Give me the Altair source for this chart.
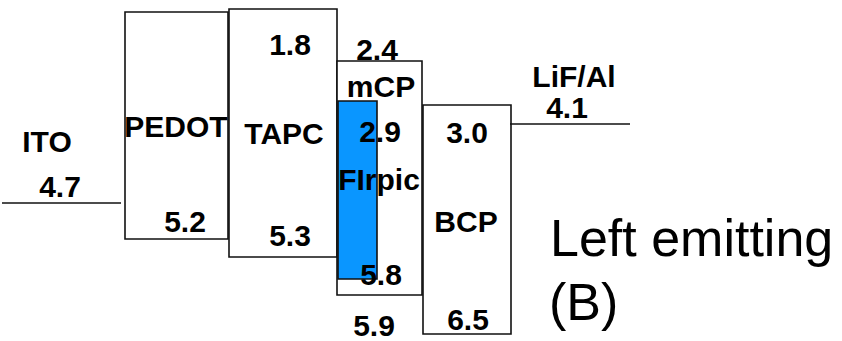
import altair as alt
import pandas as pd

W, H = 842, 341

# Schematic diagram coordinates (y grows downward)
box_names = ["PEDOT", "TAPC", "mCP", "FIrpic", "BCP"]
box_x0 = [125, 229, 337, 338, 423]
box_x1 = [228, 337, 422, 377, 511]
box_y0 = [12, 9, 61, 101, 105]
box_y1 = [239, 257, 295, 279, 334]
box_fill = ["white", "white", "white", "#0A96FF", "white"]

line_names = ["ITO", "LiF/Al"]
line_x0 = [2, 510]
line_x1 = [121, 630]
line_y = [203, 124]

# Labels: text, centre x, baseline y
label_text = ["ITO", "4.7", "PEDOT", "5.2", "TAPC", "1.8", "5.3", "2.4", "mCP",
              "2.9", "FIrpic", "5.8", "5.9", "3.0", "BCP", "6.5", "LiF/Al", "4.1"]
label_x = [47, 60, 176, 185, 284, 290, 290, 377, 381,
           380, 379, 381, 374, 467, 466, 468, 574, 567]
label_y = [152, 197, 137, 232, 144, 55, 246, 60, 97,
           142, 190, 285, 336, 143, 232, 330, 87, 118]

note_text = ["Left emitting", "(B)"]
note_x = [550, 549]
note_y = [256, 320]

boxes = pd.DataFrame({"name": box_names, "x0": box_x0, "x1": box_x1,
                      "y0": box_y0, "y1": box_y1, "fill": box_fill})
lines = pd.DataFrame({"name": line_names, "x0": line_x0, "x1": line_x1, "y": line_y})
labels = pd.DataFrame({"text": label_text, "x": label_x, "y": label_y})
notes = pd.DataFrame({"text": note_text, "x": note_x, "y": note_y})

xs = alt.Scale(domain=[0, W], range=[0, W])
ys = alt.Scale(domain=[0, H], range=[0, H])

layers = []
for i, r in boxes.iterrows():
    layers.append(
        alt.Chart(boxes.iloc[[i]]).mark_rect(
            fill=r["fill"], stroke="#111111", strokeWidth=1.6
        ).encode(
            x=alt.X("x0:Q", scale=xs, axis=None),
            x2="x1:Q",
            y=alt.Y("y0:Q", scale=ys, axis=None),
            y2="y1:Q",
        )
    )

line_layer = alt.Chart(lines).mark_rule(color="#111111", strokeWidth=1.5).encode(
    x=alt.X("x0:Q", scale=xs, axis=None),
    x2="x1:Q",
    y=alt.Y("y:Q", scale=ys, axis=None),
)

label_layer = alt.Chart(labels).mark_text(
    font="Liberation Sans", fontWeight="bold", fontSize=30,
    align="center", baseline="alphabetic", color="#000000"
).encode(
    x=alt.X("x:Q", scale=xs, axis=None),
    y=alt.Y("y:Q", scale=ys, axis=None),
    text="text:N",
)

note_layer = alt.Chart(notes).mark_text(
    font="Liberation Sans", fontSize=52,
    align="left", baseline="alphabetic", color="#000000"
).encode(
    x=alt.X("x:Q", scale=xs, axis=None),
    y=alt.Y("y:Q", scale=ys, axis=None),
    text="text:N",
)

chart = alt.layer(*layers, line_layer, label_layer, note_layer).properties(
    width=W, height=H, padding=0, autosize=alt.AutoSizeParams(type="none"),
    background="white"
).configure_view(stroke=None)

chart.save("out.html", embed_options={"renderer": "svg", "actions": False})
